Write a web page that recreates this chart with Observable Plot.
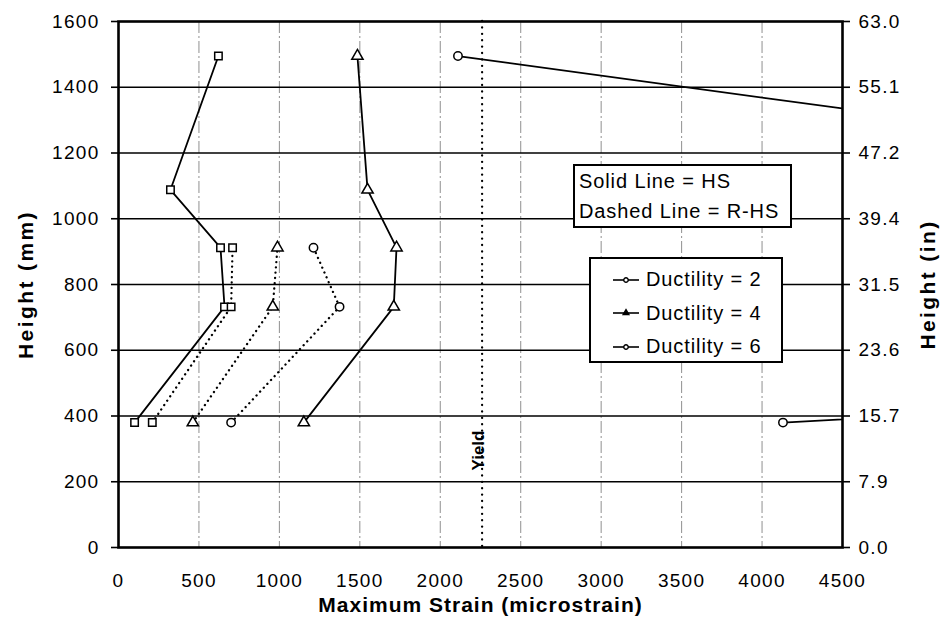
<!DOCTYPE html>
<html>
<head>
<meta charset="utf-8">
<script src="https://cdn.jsdelivr.net/npm/d3@7"></script>
<script src="https://cdn.jsdelivr.net/npm/@observablehq/plot@0.6"></script>
<style>
  html, body { margin: 0; padding: 0; background: #fff; }
  #wrap { position: relative; width: 942px; height: 637px; font-family: "Liberation Sans", Arial, sans-serif; }
  .box { position: absolute; background: #fff; border: 2px solid #000; box-sizing: border-box; color: #000; }
  #box1 { left: 573px; top: 164px; width: 219px; height: 64px; font-size: 20px; line-height: 30px; padding: 0 0 0 4px; letter-spacing: 0.9px; white-space: nowrap; }
  #box2 { left: 589px; top: 257px; width: 194px; height: 106px; font-size: 20px; padding: 4px 0 0 20px; letter-spacing: 0.9px; white-space: nowrap; }
  #box2 .row { height: 33.5px; display: flex; align-items: center; }
  #box2 svg { margin-right: 5px; }
</style>
</head>
<body>
<div id="wrap"></div>
<script>
// ---- data ----
const heights = [380, 732, 912, 1088, 1495];           // gauge heights (mm)
const hsDuct2 = [100, 659, 634, 323, 621];              // HS, ductility 2
const hsDuct4 = [1152, 1711, 1728, 1548, 1485];         // HS, ductility 4
const hsDuct6 = [4130, 17400, 12000, 8200, 2110];       // HS, ductility 6 (mid values off chart)
const rhsDuct2 = [210, 700, 709];                       // R-HS, ductility 2
const rhsDuct4 = [462, 959, 988];                       // R-HS, ductility 4
const rhsDuct6 = [700, 1374, 1212];                     // R-HS, ductility 6
const yieldStrain = [2260];
const yieldLabelHeight = [295];
const xTicks = [0, 500, 1000, 1500, 2000, 2500, 3000, 3500, 4000, 4500];
const yTicks = [0, 200, 400, 600, 800, 1000, 1200, 1400, 1600];
const ductilities = [2, 4, 6];
const legendLabels = ["Ductility = 2", "Ductility = 4", "Ductility = 6"];
const legendSymbols = ["circle", "triangle", "circle"];

// ---- build rows ----
function rows(vals, type, d) {
  return vals.map((v, i) => ({strain: v, height: heights[i], type, ductility: d, key: type + d}));
}
const hsRows = [...rows(hsDuct2, "HS", 2), ...rows(hsDuct4, "HS", 4), ...rows(hsDuct6, "HS", 6)];
const rhsRows = [...rows(rhsDuct2, "R-HS", 2), ...rows(rhsDuct4, "R-HS", 4), ...rows(rhsDuct6, "R-HS", 6)];
const allRows = [...hsRows, ...rhsRows];

const font = "'Liberation Sans', Arial, sans-serif";

const chart = Plot.plot({
  width: 942,
  height: 637,
  marginLeft: 118,
  marginRight: 100,
  marginTop: 21,
  marginBottom: 90,
  style: {fontFamily: font, fontSize: "19px", color: "#000", background: "#fff"},
  x: {domain: [0, 4500]},
  y: {domain: [0, 1600]},
  symbol: {domain: ductilities, range: ["square", "triangle", "circle"]},
  marks: [
    Plot.ruleX(xTicks.slice(1, -1), {stroke: "#222", strokeOpacity: 0.5, strokeWidth: 1, strokeDasharray: "12,3,2,3"}),
    Plot.ruleY(yTicks.slice(1, -1), {stroke: "#000", strokeWidth: 1.4}),
    Plot.ruleX(yieldStrain, {stroke: "#000", strokeWidth: 2.3, strokeDasharray: "0.1,6.3", strokeLinecap: "round"}),
    Plot.text(["Yield"], {x: yieldStrain, y: yieldLabelHeight, rotate: -90, dx: -4, fontWeight: "bold", fontSize: 17, fill: "#000"}),
    Plot.line(hsRows, {x: "strain", y: "height", z: "key", stroke: "#000", strokeWidth: 1.8, clip: true}),
    Plot.line(rhsRows, {x: "strain", y: "height", z: "key", stroke: "#000", strokeWidth: 2.3, strokeDasharray: "0.1,5.2", strokeLinecap: "round", clip: true}),
    Plot.dot(allRows, {x: "strain", y: "height", symbol: "ductility", r: 4.2, fill: "#fff", stroke: "#000", strokeWidth: 1.5, clip: true}),
    Plot.frame({stroke: "#000", strokeWidth: 2.6}),
    Plot.axisX({ticks: xTicks, tickSize: 0, tickPadding: 26, tickFormat: d => String(d), fontSize: 19,
      label: "Maximum Strain (microstrain)", labelAnchor: "center", labelArrow: "none", labelOffset: 64}),
    Plot.axisY({anchor: "left", ticks: yTicks, tickSize: 7, tickPadding: 12, tickFormat: d => String(d), fontSize: 19,
      label: "Height (mm)", labelAnchor: "center", labelArrow: "none", labelOffset: 100}),
    Plot.axisY({anchor: "right", ticks: yTicks, tickSize: 7, tickPadding: 9, tickFormat: d => (d / 25.4).toFixed(1), fontSize: 19,
      label: "Height (in)", labelAnchor: "center", labelArrow: "none", labelOffset: 92})
  ]
});

// axis titles bold and wide
chart.querySelectorAll("g[aria-label='x-axis label'] text").forEach(t => {
  t.setAttribute("font-weight", "bold");
  t.setAttribute("font-size", "21");
  t.style.letterSpacing = "1px";
});
chart.querySelectorAll("g[aria-label='y-axis label'] text").forEach(t => {
  t.setAttribute("font-weight", "bold");
  t.setAttribute("font-size", "21");
  t.style.letterSpacing = "2.4px";
});
// wide tick labels
chart.querySelectorAll("g[aria-label$='tick label'] text").forEach(t => {
  t.style.letterSpacing = "1.3px";
});
chart.querySelectorAll("g[aria-label='y-axis tick'] path, g[aria-label='x-axis tick'] path").forEach(p => p.setAttribute("stroke-width", "1.6"));

const wrap = document.getElementById("wrap");
wrap.appendChild(chart);

// ---- legends (HTML overlays) ----
const box1 = document.createElement("div");
box1.className = "box"; box1.id = "box1";
box1.innerHTML = "<div>Solid Line = HS</div><div>Dashed Line = R-HS</div>";
wrap.appendChild(box1);

const box2 = document.createElement("div");
box2.className = "box"; box2.id = "box2";
legendLabels.forEach((lab, i) => {
  const row = document.createElement("div");
  row.className = "row";
  const isCircle = legendSymbols[i] === "circle";
  const sym = d3.symbol(isCircle ? d3.symbolCircle : d3.symbolTriangle, isCircle ? 16 : 14)();
  row.innerHTML = `<svg width="30" height="14" viewBox="0 0 30 14"><line x1="2" y1="7" x2="28" y2="7" stroke="#000" stroke-width="1.6"/><path transform="translate(15,7)" d="${sym}" fill="${isCircle ? '#fff' : '#000'}" stroke="#000" stroke-width="1.4"/></svg><span>${lab}</span>`;
  box2.appendChild(row);
});
wrap.appendChild(box2);
</script>
</body>
</html>
